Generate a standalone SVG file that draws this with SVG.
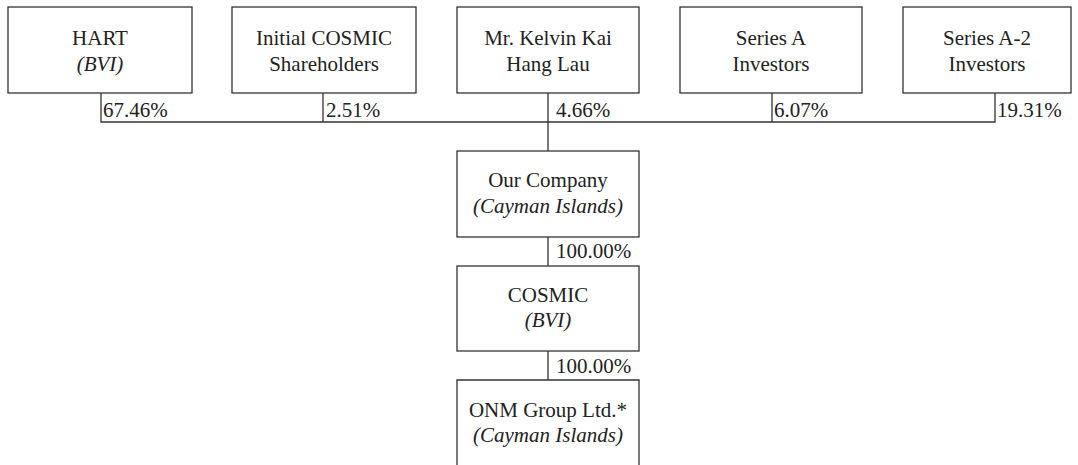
<svg xmlns="http://www.w3.org/2000/svg" width="1078" height="465" viewBox="0 0 1078 465">
<style>
.box{fill:#fff;stroke:#333;stroke-width:1.3}
.ln{fill:none;stroke:#333;stroke-width:1.3}
text{font-family:"Liberation Serif","Times New Roman",serif;font-size:21px;fill:#222}
.c{text-anchor:middle}
.i{font-style:italic}
</style>
<rect width="1078" height="465" fill="#fff"/>
<g id="connectors">
<path class="ln" d="M101 93V122H995V93M323 93V122M548 93V151M772 93V122M548 237V266M548 351V380"/>
<text x="103" y="117">67.46%</text>
<text x="326" y="117">2.51%</text>
<text x="556" y="117">4.66%</text>
<text x="774" y="117">6.07%</text>
<text x="997" y="117">19.31%</text>
<text x="556" y="258">100.00%</text>
<text x="556" y="373">100.00%</text>
</g>
<g id="hart"><rect class="box" x="8" y="7" width="184" height="86"/><text class="c" x="100" y="45">HART</text><text class="c i" x="100" y="71">(BVI)</text></g>
<g id="initial"><rect class="box" x="232" y="7" width="184" height="86"/><text class="c" x="324" y="45">Initial COSMIC</text><text class="c" x="324" y="71">Shareholders</text></g>
<g id="kelvin"><rect class="box" x="457" y="7" width="182" height="86"/><text class="c" x="548" y="45">Mr. Kelvin Kai</text><text class="c" x="548" y="71">Hang Lau</text></g>
<g id="seriesa"><rect class="box" x="680" y="7" width="182" height="86"/><text class="c" x="771" y="45">Series A</text><text class="c" x="771" y="71">Investors</text></g>
<g id="seriesa2"><rect class="box" x="903" y="7" width="168" height="86"/><text class="c" x="987" y="45">Series A-2</text><text class="c" x="987" y="71">Investors</text></g>
<g id="ourco"><rect class="box" x="457" y="151" width="182" height="86"/><text class="c" x="548" y="187">Our Company</text><text class="c i" x="548" y="213">(Cayman Islands)</text></g>
<g id="cosmic"><rect class="box" x="457" y="266" width="182" height="85"/><text class="c" x="548" y="302">COSMIC</text><text class="c i" x="548" y="327">(BVI)</text></g>
<g id="onm"><path class="ln" d="M457 466V380H639V466"/><text class="c" x="548" y="417">ONM Group Ltd.*</text><text class="c i" x="548" y="442">(Cayman Islands)</text></g>
</svg>
